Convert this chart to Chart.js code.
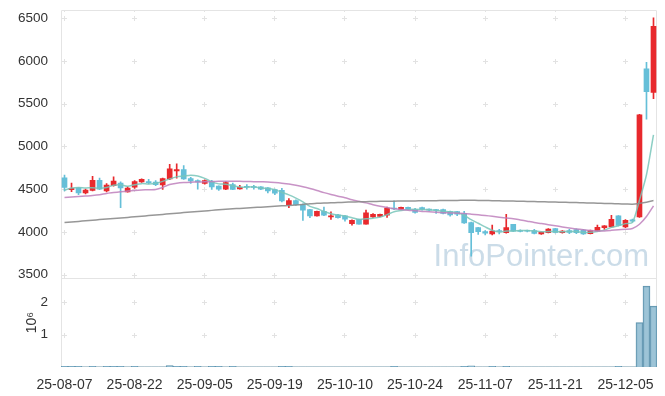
<!DOCTYPE html>
<html>
<head>
<meta charset="utf-8">
<script src="https://cdn.jsdelivr.net/npm/chart.js@4.4.1/dist/chart.umd.min.js"></script>
<style>
  html, body { margin: 0; padding: 0; background: #fff; }
  canvas { display: block; }
</style>
</head>
<body>
<canvas id="stockChart" width="665" height="396"></canvas>
<script>
// trading days (YY-MM-DD)
const dates = [
  '25-08-07','25-08-08','25-08-11','25-08-12','25-08-13','25-08-14','25-08-18','25-08-19','25-08-20','25-08-21',
  '25-08-22','25-08-25','25-08-26','25-08-27','25-08-28','25-08-29','25-09-01','25-09-02','25-09-03','25-09-04',
  '25-09-05','25-09-08','25-09-09','25-09-10','25-09-11','25-09-12','25-09-15','25-09-16','25-09-17','25-09-18',
  '25-09-19','25-09-22','25-09-23','25-09-24','25-09-25','25-09-26','25-09-29','25-09-30','25-10-01','25-10-02',
  '25-10-10','25-10-13','25-10-14','25-10-15','25-10-16','25-10-17','25-10-20','25-10-21','25-10-22','25-10-23',
  '25-10-24','25-10-27','25-10-28','25-10-29','25-10-30','25-10-31','25-11-03','25-11-04','25-11-05','25-11-06',
  '25-11-07','25-11-10','25-11-11','25-11-12','25-11-13','25-11-14','25-11-17','25-11-18','25-11-19','25-11-20',
  '25-11-21','25-11-24','25-11-25','25-11-26','25-11-27','25-11-28','25-12-01','25-12-02','25-12-03','25-12-04',
  '25-12-05','25-12-08','25-12-09','25-12-10','25-12-11'
];

const opens = [
  4633,4495,4515,4457,4485,4605,4480,4540,4570,4468,
  4525,4585,4590,4582,4550,4621,4715,4730,4625,4602,
  4567,4586,4535,4500,4555,4503,4530,4527,4527,4515,
  4496,4488,4320,4367,4320,4261,4187,4242,4176,4199,
  4187,4097,4144,4092,4175,4180,4195,4275,4262,4288,
  4262,4285,4262,4260,4261,4238,4238,4215,4110,4051,
  4005,3975,4010,3990,4089,4015,4012,4015,3975,3992,
  4038,3992,4015,4027,4020,3980,4010,4051,4058,4187,
  4058,4140,4175,5909,5631
];
const highs = [
  4664,4570,4520,4500,4650,4630,4567,4645,4585,4530,
  4600,4620,4615,4600,4630,4790,4797,4775,4640,4610,
  4610,4605,4540,4590,4570,4545,4555,4545,4530,4520,
  4500,4510,4390,4375,4330,4265,4245,4292,4234,4205,
  4190,4140,4150,4255,4215,4210,4290,4365,4292,4292,
  4275,4290,4270,4265,4268,4245,4242,4242,4115,4055,
  4015,4080,4030,4207,4090,4025,4020,4030,4000,4040,
  4042,4015,4030,4035,4030,4020,4080,4075,4195,4190,
  4145,4150,5375,5985,6505
];
const lows = [
  4480,4470,4435,4445,4480,4495,4468,4535,4285,4465,
  4508,4580,4562,4540,4496,4610,4630,4615,4567,4500,
  4560,4497,4485,4495,4495,4500,4500,4500,4495,4457,
  4437,4350,4285,4310,4135,4168,4185,4190,4145,4160,
  4125,4080,4090,4090,4170,4175,4170,4260,4258,4258,
  4220,4255,4245,4215,4210,4185,4190,4100,3715,3970,
  3965,3965,3975,3985,4005,4000,4000,3975,3970,3988,
  3988,3985,3978,3980,3970,3975,4005,4030,4055,4070,
  4050,4115,4170,5320,5560
];
const closes = [
  4520,4510,4457,4490,4605,4500,4547,4594,4515,4512,
  4590,4615,4575,4552,4625,4738,4730,4621,4597,4585,
  4602,4527,4500,4578,4497,4523,4523,4520,4500,4480,
  4453,4363,4367,4318,4253,4187,4242,4195,4182,4168,
  4148,4136,4092,4222,4207,4207,4280,4268,4288,4262,
  4228,4262,4255,4250,4215,4200,4207,4105,3990,4004,
  3985,4010,4005,4051,4010,4005,4008,3982,3998,4034,
  3993,4010,3993,3990,3977,4015,4054,4070,4148,4075,
  4136,4125,5369,5642,6405
];
const volumes = [
  22000,20000,21000,5000,20000,6000,22000,20000,24000,6000,
  20000,5000,6000,5000,7000,45000,22000,21000,6000,20000,
  7000,21000,20000,6000,20000,5000,5000,5000,5000,5000,
  5000,21000,20000,5000,5000,5000,5000,5000,5000,5000,
  5000,5000,5000,5000,5000,5000,5000,22000,5000,5000,
  5000,5000,5000,5000,5000,5000,5000,22000,40000,6000,
  7000,22000,6000,23000,5000,5000,5000,5000,5000,5000,
  5000,5000,5000,5000,5000,5000,5000,5000,5000,22000,
  8000,9000,1370000,2500000,1880000
];

// moving averages
const ma5 = [
  4488,4515,4520,4515,4516,4512,4520,4547,4552,4534,
  4552,4565,4561,4569,4591,4621,4644,4653,4662,4654,
  4627,4586,4562,4558,4541,4525,4524,4528,4513,4509,
  4495,4463,4433,4396,4351,4298,4273,4239,4212,4195,
  4187,4166,4145,4153,4161,4173,4202,4237,4250,4261,
  4265,4262,4259,4251,4242,4236,4225,4195,4143,4101,
  4058,4019,3999,4011,4012,4016,4016,4011,4001,4005,
  4003,4003,4006,4004,3993,3997,4006,4021,4053,4072,
  4097,4111,4371,4669,5135
];
const ma20 = [
  4402,4408,4414,4420,4426,4435,4450,4460,4470,4478,
  4485,4490,4494,4496,4520,4555,4570,4578,4582,4584,
  4586,4590,4592,4594,4594,4592,4590,4588,4586,4584,
  4578,4570,4560,4545,4528,4508,4485,4460,4438,4418,
  4400,4376,4358,4340,4318,4300,4285,4272,4262,4253,
  4247,4240,4235,4230,4225,4222,4218,4215,4208,4200,
  4192,4183,4172,4162,4155,4140,4125,4110,4098,4085,
  4072,4058,4046,4035,4025,4016,4010,4012,4018,4025,
  4030,4040,4090,4180,4305
];
const ma120 = [
  4109,4116,4123,4130,4137,4144,4150,4157,4164,4170,
  4177,4184,4191,4198,4205,4212,4219,4226,4233,4240,
  4246,4252,4258,4264,4270,4275,4280,4285,4290,4295,
  4300,4305,4310,4316,4322,4330,4334,4338,4341,4344,
  4347,4350,4352,4354,4356,4358,4359,4360,4361,4362,
  4363,4364,4365,4366,4367,4368,4369,4370,4370,4369,
  4367,4366,4364,4362,4361,4359,4357,4355,4353,4351,
  4349,4347,4345,4343,4340,4338,4336,4333,4331,4329,
  4327,4324,4334,4348,4367
];

const xTicks = ['25-08-07','25-08-22','25-09-05','25-09-19','25-10-10','25-10-24','25-11-07','25-11-21','25-12-05'];
const priceTicks = [3500, 4000, 4500, 5000, 5500, 6000, 6500];
const volumeTicks = [1000000, 2000000];

const UP = '#e8292d';
const DOWN = '#65bfd8';
const GRID = '#e2e2e2';
const LABEL = '#333333';

const candleColors = closes.map((c, i) => (c >= opens[i] ? UP : DOWN));

// grid crosses, panel frames and watermark
const panelFrame = {
  id: 'panelFrame',
  beforeDatasetsDraw(chart) {
    const { ctx, scales } = chart;
    const x = scales.x, y = scales.y, yv = scales.yv;
    const L = Math.round(x.left) + 0.5, R = Math.round(x.right) - 0.5;
    ctx.save();

    ctx.font = '31px "Liberation Sans", Arial, sans-serif';
    ctx.fillStyle = 'rgba(160,192,214,0.55)';
    ctx.textAlign = 'right';
    ctx.textBaseline = 'alphabetic';
    ctx.fillText('InfoPointer.com', x.right - 8, y.bottom - 12);

    ctx.strokeStyle = GRID;
    ctx.lineWidth = 1;
    const cross = (px, py) => {
      ctx.beginPath();
      ctx.moveTo(px - 2, py); ctx.lineTo(px + 3, py);
      ctx.moveTo(px + 0.5, py - 2.5); ctx.lineTo(px + 0.5, py + 2.5);
      ctx.stroke();
    };
    xTicks.forEach(lbl => {
      const px = Math.floor(x.getPixelForValue(dates.indexOf(lbl)));
      priceTicks.forEach(v => cross(px, Math.round(y.getPixelForValue(v)) + 0.5));
      volumeTicks.forEach(v => cross(px, Math.round(yv.getPixelForValue(v)) + 0.5));
      ctx.beginPath();
      ctx.moveTo(px + 0.5, y.top); ctx.lineTo(px + 0.5, y.top + 2);
      ctx.stroke();
    });

    ctx.strokeStyle = '#e4e4e4';
    ctx.beginPath();
    const T = Math.round(y.top) + 0.5;
    const M = Math.round(y.bottom) + 0.5;
    const B = Math.round(yv.bottom) - 0.5;
    ctx.moveTo(L, B); ctx.lineTo(L, T); ctx.lineTo(R, T); ctx.lineTo(R, B);
    ctx.moveTo(L, M); ctx.lineTo(R, M);
    ctx.moveTo(L, B); ctx.lineTo(R, B);
    ctx.stroke();
    ctx.restore();
  }
};

const lineSet = (data, color) => ({
  type: 'line',
  data: data,
  yAxisID: 'y',
  borderColor: color,
  borderWidth: 1.5,
  pointRadius: 0,
  tension: 0.25,
  order: 0
});

// keep the y axes from pushing the plot area down
const noEdgePadding = s => { s.width = 61; s.paddingTop = 0; s.paddingBottom = 0; };

new Chart(document.getElementById('stockChart'), {
  data: {
    labels: dates,
    datasets: [
      lineSet(ma120, 'rgba(140,140,140,0.9)'),
      lineSet(ma20, 'rgba(190,128,188,0.85)'),
      lineSet(ma5, 'rgba(120,198,186,0.85)'),
      {
        type: 'bar',
        data: opens.map((o, i) => [o, closes[i]]),
        yAxisID: 'y',
        backgroundColor: candleColors,
        barThickness: 5,
        minBarLength: 1,
        grouped: false,
        order: 1
      },
      {
        type: 'bar',
        data: lows.map((l, i) => [l, highs[i]]),
        yAxisID: 'y',
        backgroundColor: candleColors,
        barThickness: 1,
        grouped: false,
        order: 2
      },
      {
        type: 'bar',
        data: volumes,
        yAxisID: 'yv',
        backgroundColor: 'rgba(140,186,208,0.85)',
        borderColor: '#5f93ad',
        borderWidth: 1,
        barPercentage: 1,
        categoryPercentage: 1,
        grouped: false,
        order: 3
      }
    ]
  },
  options: {
    responsive: false,
    animation: false,
    layout: { padding: { top: 10, right: 8, left: 0, bottom: 0 } },
    plugins: { legend: { display: false }, tooltip: { enabled: false } },
    scales: {
      x: {
        type: 'category',
        offset: true,
        grid: { display: false },
        border: { display: false },
        afterFit: s => { s.height = 29; },
        ticks: {
          autoSkip: false,
          maxRotation: 0,
          padding: 2,
          color: LABEL,
          font: { family: 'Liberation Sans', size: 14 },
          callback: (v, i) => (xTicks.includes(dates[i]) ? dates[i] : '')
        }
      },
      yv: {
        type: 'linear',
        position: 'left',
        stack: 'panels',
        stackWeight: 1,
        weight: 1,
        min: 0,
        max: 2740000,
        grid: { display: false },
        border: { display: false },
        afterBuildTicks: s => { s.ticks = volumeTicks.map(v => ({ value: v })); },
        afterFit: noEdgePadding,
        title: {
          display: true,
          text: '10⁶',
          color: LABEL,
          font: { family: 'Liberation Sans', size: 14 },
          padding: { top: 24, bottom: 0 }
        },
        ticks: {
          padding: 5,
          color: LABEL,
          font: { family: 'Liberation Sans', size: 13.5 },
          callback: v => String(v / 1000000)
        }
      },
      y: {
        type: 'linear',
        position: 'left',
        stack: 'panels',
        stackWeight: 3.025,
        weight: 2,
        min: 3457,
        max: 6597,
        grid: { display: false },
        border: { display: false },
        afterBuildTicks: s => { s.ticks = priceTicks.map(v => ({ value: v })); },
        afterFit: noEdgePadding,
        ticks: {
          padding: 5,
          color: LABEL,
          font: { family: 'Liberation Sans', size: 13.5 },
          callback: v => String(v)
        }
      }
    }
  },
  plugins: [panelFrame]
});
</script>
</body>
</html>
